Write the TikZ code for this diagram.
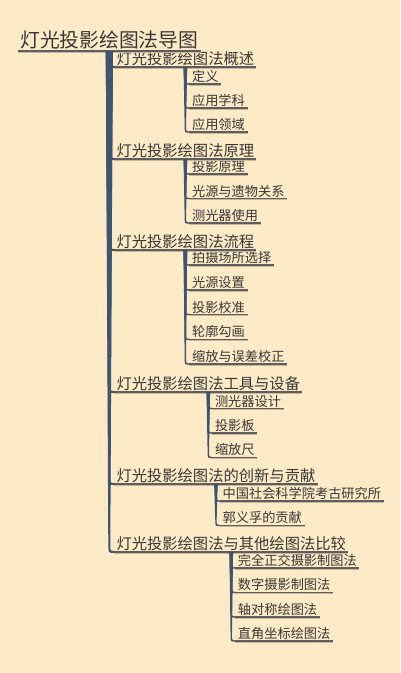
\documentclass[tikz,border=0pt]{standalone}
\usepackage{fontspec}
\setmainfont{Noto Sans CJK SC}
\usetikzlibrary{calc}
\definecolor{bgc}{HTML}{FDEAC6}
\definecolor{trunkc}{HTML}{40546F}
\definecolor{txtc}{HTML}{383838}
\definecolor{ulc}{HTML}{5E5E5E}
\definecolor{ulsh}{HTML}{C4B79C}
% #1 parent anchor, #2 child anchor, #3 start width, #4 end width, #5 bend length
\newcommand\brfill[5]{%
  \fill[trunkc] let \p1=(#1), \p2=(#2) in
    (\x1-#3/2, \y1) -- (\x1-#4/2, \y2+#5)
    .. controls (\x1-#4/2, \y2-#4/2) .. (\x2, \y2-#4/2)
    -- (\x2, \y2+#4/2)
    .. controls (\x1+#4/2, \y2+#4/2) .. (\x1+#4/2, \y2+#5)
    -- (\x1+#3/2, \y1) -- cycle;}
\begin{document}
\begin{tikzpicture}[x=1pt,y=-1pt,
  titlebox/.style={anchor=south west, text=txtc, inner xsep=2pt, inner ysep=1.5pt,
    font=\fontsize{19.8}{21}\selectfont},
  lone/.style={anchor=south west, text=txtc, inner xsep=2pt, inner ysep=1.2pt,
    font=\fontsize{15.3}{17}\selectfont},
  ltwo/.style={anchor=south west, text=txtc, inner xsep=2.5pt, inner ysep=1.2pt,
    font=\fontsize{13.2}{15}\selectfont},
  ulline/.style={draw=ulc, line width=1.1pt},
  ulshadow/.style={draw=ulsh, line width=1pt}]
\fill[bgc] (0,0) rectangle (400,673);
\useasboundingbox (0,0) rectangle (400,673);

\node[titlebox] (T) at (18,51) {灯光投影绘图法导图};

\node[lone] (L1) at ($(T.south |- 0,67)+(5,0)$) {灯光投影绘图法概述};
\node[lone] (L2) at ($(T.south |- 0,159)+(5,0)$) {灯光投影绘图法原理};
\node[lone] (L3) at ($(T.south |- 0,250)+(5,0)$) {灯光投影绘图法流程};
\node[lone] (L4) at ($(T.south |- 0,392)+(5,0)$) {灯光投影绘图法工具与设备};
\node[lone] (L5) at ($(T.south |- 0,484)+(5,0)$) {灯光投影绘图法的创新与贡献};
\node[lone] (L6) at ($(T.south |- 0,552)+(5,0)$) {灯光投影绘图法与其他绘图法比较};

\node[ltwo] (a1) at ($(L1.south |- 0,84)+(4,0)$) {定义};
\node[ltwo] (a2) at ($(L1.south |- 0,108)+(4,0)$) {应用学科};
\node[ltwo] (a3) at ($(L1.south |- 0,132)+(4,0)$) {应用领域};

\node[ltwo] (b1) at ($(L2.south |- 0,174)+(4,0)$) {投影原理};
\node[ltwo] (b2) at ($(L2.south |- 0,198.5)+(4,0)$) {光源与遗物关系};
\node[ltwo] (b3) at ($(L2.south |- 0,223)+(4,0)$) {测光器使用};

\node[ltwo] (c1) at ($(L3.south |- 0,265)+(4,0)$) {拍摄场所选择};
\node[ltwo] (c2) at ($(L3.south |- 0,290)+(4,0)$) {光源设置};
\node[ltwo] (c3) at ($(L3.south |- 0,314.5)+(4,0)$) {投影校准};
\node[ltwo] (c4) at ($(L3.south |- 0,339.3)+(4,0)$) {轮廓勾画};
\node[ltwo] (c5) at ($(L3.south |- 0,364)+(4,0)$) {缩放与误差校正};

\node[ltwo] (d1) at ($(L4.south |- 0,408.5)+(4,0)$) {测光器设计};
\node[ltwo] (d2) at ($(L4.south |- 0,433)+(4,0)$) {投影板};
\node[ltwo] (d3) at ($(L4.south |- 0,457.5)+(4,0)$) {缩放尺};

\node[ltwo] (e1) at ($(L5.south |- 0,501)+(4,0)$) {中国社会科学院考古研究所};
\node[ltwo] (e2) at ($(L5.south |- 0,525.5)+(4,0)$) {郭义孚的贡献};

\node[ltwo] (f1) at ($(L6.south |- 0,568)+(4,0)$) {完全正交摄影制图法};
\node[ltwo] (f2) at ($(L6.south |- 0,592.3)+(4,0)$) {数字摄影制图法};
\node[ltwo] (f3) at ($(L6.south |- 0,617)+(4,0)$) {轴对称绘图法};
\node[ltwo] (f4) at ($(L6.south |- 0,641)+(4,0)$) {直角坐标绘图法};

% underlines
\foreach \n in {T,L1,L2,L3,L4,L5,L6,a1,a2,a3,b1,b2,b3,c1,c2,c3,c4,c5,d1,d2,d3,e1,e2,f1,f2,f3,f4}{
  \draw[ulshadow] ([yshift=-1.3pt]\n.south west) -- ([yshift=-1.3pt]\n.south east);
  \draw[ulline] (\n.south west) -- (\n.south east);
}

% trunk branches
\foreach \c in {L1,L2,L3,L4,L5,L6}{\brfill{T.south}{\c.south west}{7pt}{2pt}{8pt}}
% second level branches
\foreach \c in {a1,a2,a3}{\brfill{L1.south}{\c.south west}{3.6pt}{1.4pt}{6pt}}
\foreach \c in {b1,b2,b3}{\brfill{L2.south}{\c.south west}{3.6pt}{1.4pt}{6pt}}
\foreach \c in {c1,c2,c3,c4,c5}{\brfill{L3.south}{\c.south west}{3.6pt}{1.4pt}{6pt}}
\foreach \c in {d1,d2,d3}{\brfill{L4.south}{\c.south west}{3.6pt}{1.4pt}{6pt}}
\foreach \c in {e1,e2}{\brfill{L5.south}{\c.south west}{3.6pt}{1.4pt}{6pt}}
\foreach \c in {f1,f2,f3,f4}{\brfill{L6.south}{\c.south west}{3.6pt}{1.4pt}{6pt}}
\end{tikzpicture}
\end{document}
